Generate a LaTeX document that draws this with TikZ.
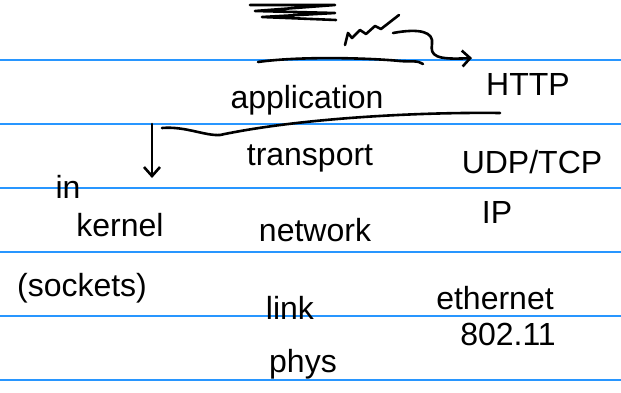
\documentclass[tikz,border=0pt]{standalone}
\usepackage{fontspec}
\setmainfont{Liberation Sans}
\usetikzlibrary{arrows.meta}
\definecolor{rule}{RGB}{40,150,255}
\begin{document}
\begin{tikzpicture}[x=1pt,y=-1pt,
  ink/.style={line width=2.6pt,line cap=round,line join=round,black},
  hw/.style={font=\fontsize{32}{32}\selectfont,inner sep=0pt,anchor=center},
  rl/.style={rule,line width=1.2pt}]
\useasboundingbox (0,0) rectangle (621,393);
\fill[white] (0,0) rectangle (621,393);
\foreach \y in {60,124,188,252,316,380} \draw[rl] (0,\y) -- (621,\y);
% texts
\node[hw] (app) at (307,100) {application};
\node[hw] (http) at (528,84) {HTTP};
\node[hw] (trans) at (310,158) {transport};
\node[hw] (udp) at (532,162) {UDP/TCP};
\node[hw] (in) at (68,187) {in};
\node[hw] (kern) at (120,225) {kernel};
\node[hw] (sock) at (82,288) {(sockets)};
\node[hw] (net) at (315,230) {network};
\node[hw] (ip) at (497,212) {IP};
\node[hw] (link) at (290,308) {link};
\node[hw] (eth) at (495,298) {ethernet};
\node[hw] (wifi) at (508,334) {802.11};
\node[hw] (phys) at (303,364) {phys};
% scribbles at top
\draw[ink] (250,5) -- (335,5) -- (255,11) -- (335,13) -- (262,17) -- (336,20);
\draw[ink] (345,45) -- (348,33) -- (352,38) -- (360,30) -- (366,34) -- (375,26) -- (381,29) -- (399,15);
% top line with hook arrow
\coordinate (tl1) at (258,62);
\coordinate (tl2) at (423,64);
\draw[ink] (tl1) .. controls (300,56) and (370,58) .. (400,61) .. controls (410,62) and (418,60) .. (tl2);
\coordinate (a1) at (393,33);
\coordinate (a2) at (472,58);
\draw[ink,-{Straight Barb[length=8pt,width=16pt]}] (a1) .. controls (420,28) and (434,32) .. (432,44) .. controls (430,56) and (436,60) .. (a2);
% line under application
\coordinate (u1) at (162,128);
\coordinate (u2) at (500,113);
\draw[ink] (u1) .. controls (185,126) and (205,136) .. (220,135) .. controls (300,118) and (420,112) .. (u2);
% down arrow
\coordinate (d1) at (152,124);
\coordinate (d2) at (152,178);
\draw[ink,-{Straight Barb[length=9pt,width=16pt]}] (d1) -- (d2);
\end{tikzpicture}
\end{document}
